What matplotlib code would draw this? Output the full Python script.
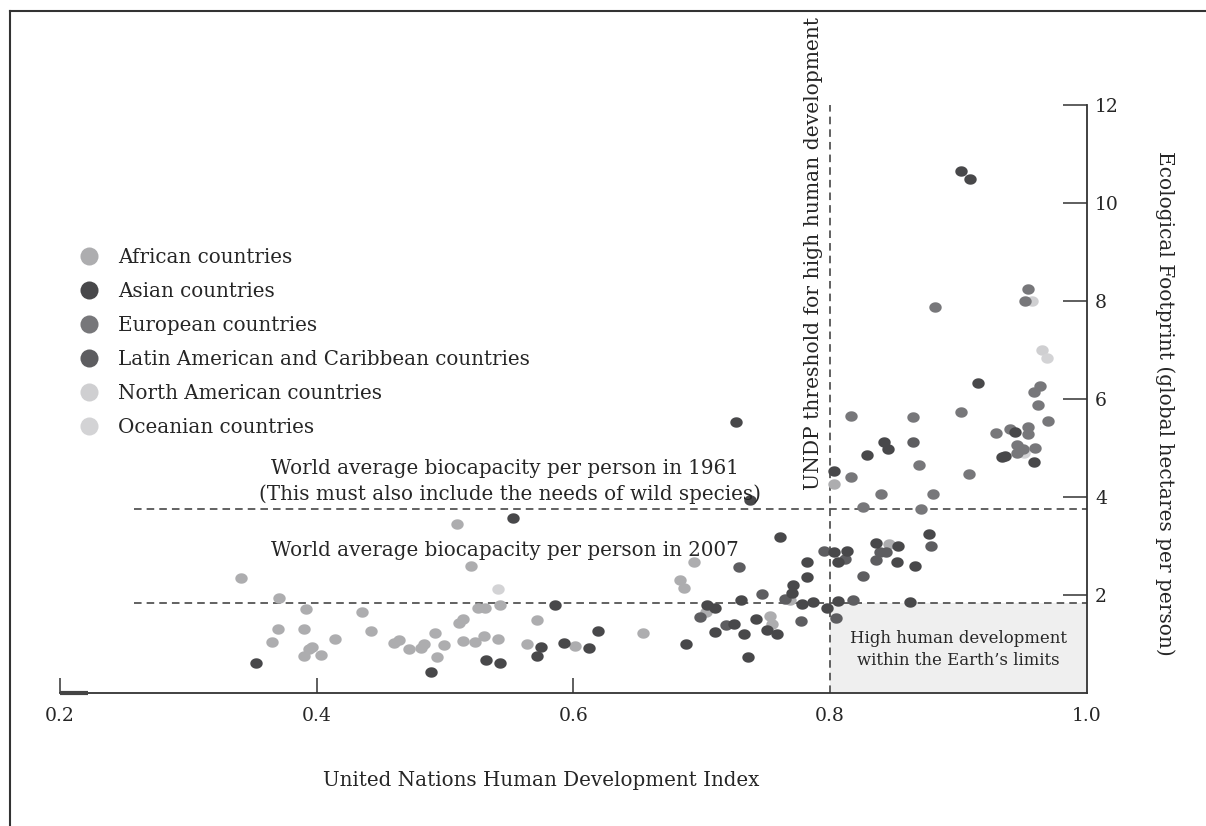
import numpy as np
import matplotlib
matplotlib.use('Agg')
import matplotlib.pyplot as plt
from matplotlib.lines import Line2D
from matplotlib.patches import Rectangle

plt.rcParams['font.family'] = ['DejaVu Serif']

# ---------------- data ----------------
categories = ["African countries", "Asian countries", "European countries",
              "Latin American and Caribbean countries", "North American countries",
              "Oceanian countries"]

african_hdi = [0.341, 0.371, 0.392, 0.370, 0.390, 0.365, 0.396, 0.394, 0.390, 0.403,
               0.414, 0.435, 0.442, 0.460, 0.464, 0.472, 0.481, 0.484, 0.492, 0.499,
               0.494, 0.511, 0.514, 0.520, 0.514, 0.523, 0.526, 0.531, 0.543, 0.530,
               0.541, 0.572, 0.564, 0.601, 0.654, 0.694, 0.683, 0.686, 0.703, 0.753,
               0.755, 0.769, 0.803, 0.846, 0.509]
african_ef = [2.34, 1.93, 1.71, 1.31, 1.31, 1.05, 0.94, 0.90, 0.76, 0.77,
              1.10, 1.66, 1.26, 1.03, 1.08, 0.89, 0.91, 1.00, 1.23, 0.97,
              0.73, 1.43, 1.52, 2.60, 1.07, 1.04, 1.74, 1.73, 1.80, 1.17,
              1.11, 1.49, 1.00, 0.96, 1.22, 2.67, 2.31, 2.15, 1.65, 1.58,
              1.41, 1.89, 4.26, 3.04, 3.45]

asian_hdi = [0.353, 0.489, 0.532, 0.543, 0.553, 0.575, 0.572, 0.586, 0.593, 0.612,
             0.619, 0.688, 0.710, 0.710, 0.725, 0.727, 0.738, 0.742, 0.751, 0.759,
             0.733, 0.736, 0.761, 0.782, 0.782, 0.771, 0.770, 0.778, 0.787, 0.798,
             0.806, 0.803, 0.813, 0.806, 0.836, 0.852, 0.866, 0.877, 0.853, 0.803,
             0.829, 0.842, 0.845, 0.902, 0.909, 0.915, 0.936, 0.934, 0.959, 0.944,
             0.731, 0.862, 0.704]
asian_ef = [0.62, 0.43, 0.67, 0.62, 3.57, 0.93, 0.76, 1.79, 1.03, 0.91,
            1.27, 1.00, 1.73, 1.24, 1.40, 5.53, 3.94, 1.52, 1.29, 1.21,
            1.20, 0.74, 3.19, 2.68, 2.37, 2.20, 2.05, 1.82, 1.86, 1.74,
            1.87, 2.88, 2.90, 2.68, 3.07, 2.68, 2.60, 3.24, 2.99, 4.54,
            4.86, 5.13, 4.97, 10.66, 10.48, 6.32, 4.84, 4.81, 4.72, 5.32,
            1.90, 1.85, 1.79]

european_hdi = [0.826, 0.871, 0.840, 0.880, 0.816, 0.869, 0.908, 0.816, 0.865, 0.902,
                0.929, 0.940, 0.954, 0.954, 0.946, 0.950, 0.946, 0.960, 0.964, 0.959,
                0.962, 0.970, 0.954, 0.952, 0.882]
european_ef = [3.79, 3.75, 4.06, 4.06, 4.40, 4.65, 4.46, 5.65, 5.63, 5.73,
               5.30, 5.38, 5.42, 5.29, 5.06, 4.97, 4.89, 5.01, 6.27, 6.15,
               5.88, 5.55, 8.24, 7.99, 7.87]

latin_hdi = [0.699, 0.719, 0.729, 0.747, 0.765, 0.777, 0.805, 0.818, 0.826, 0.795,
             0.812, 0.839, 0.844, 0.836, 0.879, 0.865]
latin_ef = [1.55, 1.39, 2.57, 2.03, 1.92, 1.46, 1.54, 1.90, 2.39, 2.89,
            2.73, 2.87, 2.88, 2.71, 2.99, 5.12]

north_american_hdi = [0.957, 0.965]
north_american_ef = [7.99, 7.00]

oceanian_hdi = [0.541, 0.969, 0.951]
oceanian_ef = [2.13, 6.83, 4.89]

biocapacity_1961 = 3.75
biocapacity_2007 = 1.83
hdi_threshold = 0.8

x_ticks = [0.2, 0.4, 0.6, 0.8, 1.0]
x_tick_labels = ["0.2", "0.4", "0.6", "0.8", "1.0"]
y_ticks = [2, 4, 6, 8, 10, 12]
y_tick_labels = ["2", "4", "6", "8", "10", "12"]

# ---------------- style ----------------
colors = {
    "African countries": "#adadaf",
    "Asian countries": "#48484a",
    "European countries": "#77777a",
    "Latin American and Caribbean countries": "#5d5d60",
    "North American countries": "#cfcfd1",
    "Oceanian countries": "#d3d3d5",
}
txt = "#262626"
dash_col = "#555555"
FS = 14.3

series = {
    "African countries": (african_hdi, african_ef),
    "Asian countries": (asian_hdi, asian_ef),
    "European countries": (european_hdi, european_ef),
    "Latin American and Caribbean countries": (latin_hdi, latin_ef),
    "North American countries": (north_american_hdi, north_american_ef),
    "Oceanian countries": (oceanian_hdi, oceanian_ef),
}
draw_order = ["North American countries", "Oceanian countries", "African countries",
              "European countries", "Latin American and Caribbean countries",
              "Asian countries"]

W, H = 1206, 826
fig = plt.figure(figsize=(W / 100, H / 100), dpi=100)
fig.patch.set_facecolor("white")
ax = fig.add_axes([60 / W, 133 / H, 1026.7 / W, 588 / H])
ax.set_xlim(0.2, 1.0)
ax.set_ylim(0, 12)
ax.patch.set_alpha(0)

# slightly oval dots
th = np.linspace(0, 2 * np.pi, 40)
oval = np.column_stack([np.cos(th), 0.84 * np.sin(th)])

for name in draw_order:
    xs, ys = series[name]
    ax.scatter(xs, ys, s=80, marker=oval, color=colors[name], linewidths=0,
               zorder=3, clip_on=False)

# shaded region
ax.add_patch(Rectangle((hdi_threshold, 0), 1.0 - hdi_threshold, biocapacity_2007,
                       facecolor="#efefef", edgecolor="none", zorder=0))

dash = (0, (4.2, 2.8))
ax.plot([0.258, 1.0], [biocapacity_1961] * 2, color=dash_col, lw=1.3, ls=dash, zorder=2)
ax.plot([0.258, 1.0], [biocapacity_2007] * 2, color=dash_col, lw=1.3, ls=dash, zorder=2)
ax.plot([hdi_threshold] * 2, [0, 12], color=dash_col, lw=1.3, ls=dash, zorder=2)

# spines
for s in ["left", "top"]:
    ax.spines[s].set_visible(False)
for s in ["bottom", "right"]:
    ax.spines[s].set_color("#333333")
    ax.spines[s].set_linewidth(1.3)
ax.plot([0.2, 0.222], [0, 0], color="#444444", lw=3.0, solid_capstyle="butt",
        clip_on=False, zorder=4)

ax.set_xticks(x_ticks)
ax.set_xticklabels(x_tick_labels)
ax.yaxis.tick_right()
ax.set_yticks(y_ticks)
ax.set_yticklabels(y_tick_labels)
ax.tick_params(axis="x", direction="in", length=11, width=1.1, pad=10,
               labelsize=13.5, colors="#333333", labelcolor=txt)
ax.tick_params(axis="y", direction="in", length=17, width=1.1, pad=6,
               labelsize=13.5, colors="#333333", labelcolor=txt)
xt = ax.xaxis.get_major_ticks()
xt[3].tick1line.set_visible(False)
xt[4].tick1line.set_visible(False)

# annotations
ax.text(0.547, 4.59, "World average biocapacity per person in 1961",
        ha="center", va="center", fontsize=FS, color=txt)
ax.text(0.551, 4.06, "(This must also include the needs of wild species)",
        ha="center", va="center", fontsize=FS, color=txt)
ax.text(0.547, 2.90, "World average biocapacity per person in 2007",
        ha="center", va="center", fontsize=FS, color=txt)
ax.text(0.787, 4.15, "UNDP threshold for high human development", rotation=90,
        ha="center", va="bottom", fontsize=14.6, color=txt, clip_on=False)
ax.text(0.90, 0.88, "High human development\nwithin the Earth\u2019s limits",
        ha="center", va="center", fontsize=11.9, color=txt, linespacing=1.4)

fig.text(1165 / W, 1 - 403 / H, "Ecological Footprint (global hectares per person)",
         rotation=270, ha="center", va="center", fontsize=14.5, color=txt)
fig.text(541 / W, 1 - 780 / H, "United Nations Human Development Index",
         ha="center", va="center", fontsize=FS, color=txt)

# legend
handles = [Line2D([0], [0], marker="o", ls="none", markersize=13,
                  markerfacecolor=colors[c], markeredgewidth=0) for c in categories]
leg = fig.legend(handles, categories, loc="upper left",
                 bbox_to_anchor=(79 / W, 1 - 248 / H), frameon=False,
                 fontsize=FS, borderpad=0, handlelength=1.0, handletextpad=0.95,
                 labelspacing=0.755, borderaxespad=0)
for t in leg.get_texts():
    t.set_color(txt)

# figure frame (left and top)
fig.add_artist(Line2D([9.5 / W, 9.5 / W], [0, 1 - 10.5 / H], transform=fig.transFigure,
                      color="#333333", lw=1.5))
fig.add_artist(Line2D([9.5 / W, 1], [1 - 10.5 / H, 1 - 10.5 / H], transform=fig.transFigure,
                      color="#333333", lw=1.5))

fig.savefig("out.png", dpi=100)
